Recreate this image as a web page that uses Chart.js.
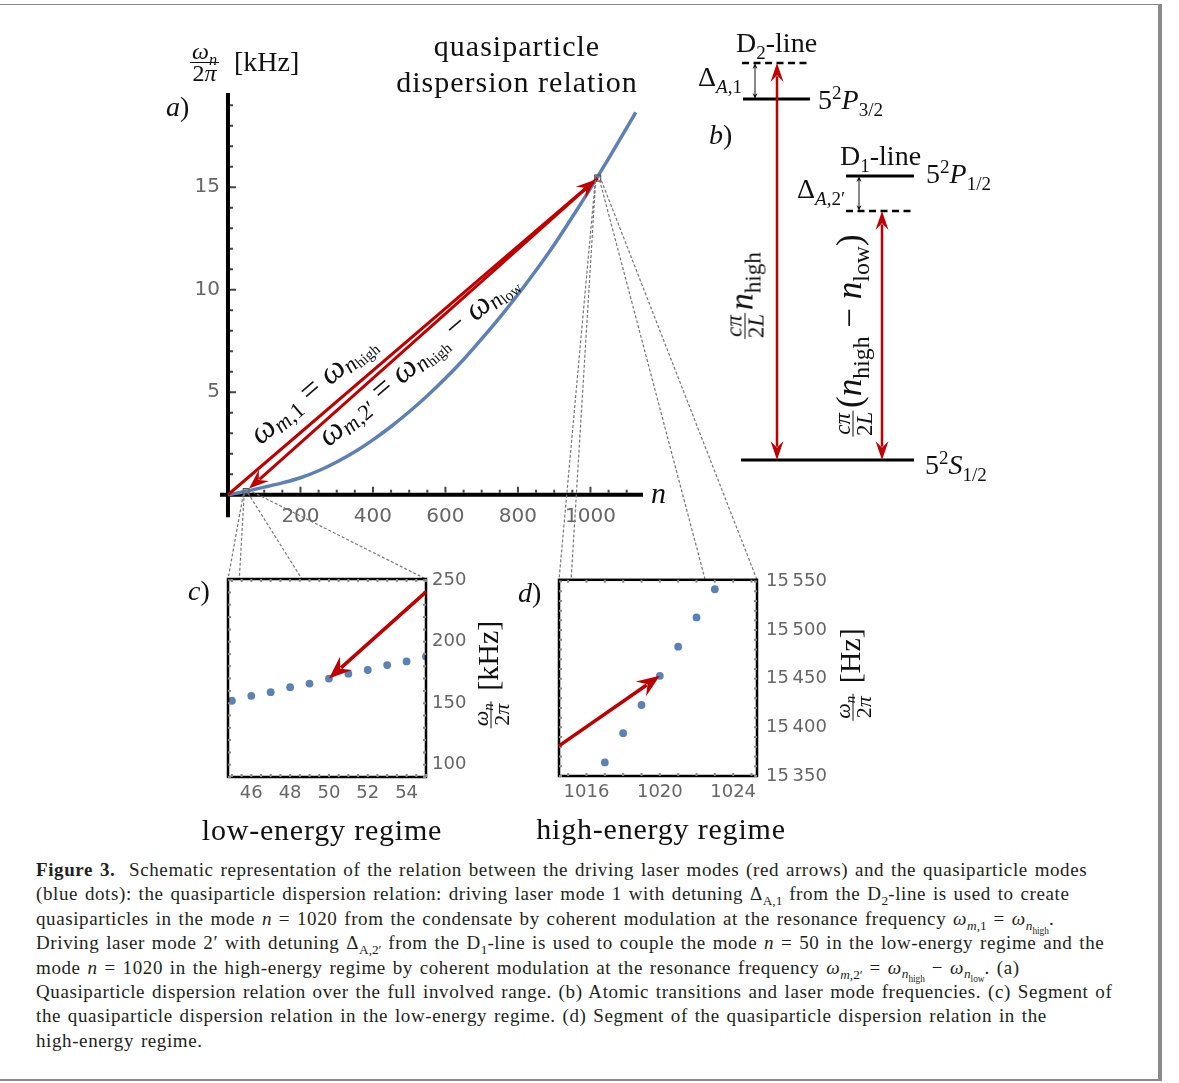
<!DOCTYPE html>
<html lang="en">
<head>
<meta charset="UTF-8">
<title>Quasiparticle dispersion relation</title>
<script src="https://cdn.jsdelivr.net/npm/chart.js"></script>
<style>
  html, body { margin: 0; padding: 0; background: #fff; }
  body { width: 1179px; height: 1083px; position: relative; overflow: hidden; }
  canvas { position: absolute; }
  #cA { left: 0; top: 0; z-index: 1; }
  #cB { left: 700px; top: 20px; z-index: 1; }
  #links { left: 0; top: 0; z-index: 2; }
  #cC { left: 180px; top: 560px; z-index: 3; }
  #cD { left: 510px; top: 560px; z-index: 3; }
  .lbl { position: absolute; z-index: 4; font-family: "Liberation Serif", serif; color: #111;
         white-space: nowrap; line-height: 1; font-size: 28px; }
  .lbl sub, .lbl sup { font-size: 0.68em; line-height: 0; }
  .ctr { transform: translateX(-50%); }
  .frac { display: inline-flex; flex-direction: column; align-items: center; vertical-align: middle;
          font-size: 20px; line-height: 19px; margin: 0 3px; }
  .frac > span:first-child { border-bottom: 1.4px solid #111; padding: 0 2px; }
  .rot { transform: translate(-50%, -50%) rotate(-90deg); }
  .diag { transform-origin: 0 0; transform: rotate(-40.5deg); font-size: 33px; }
  .diag sub { vertical-align: -0.2em; }
  .diag sub sub { vertical-align: -0.15em; }
  #caption { position: absolute; left: 36px; top: 858px; width: 1125px; font-family: "Liberation Serif", serif;
             font-size: 19px; line-height: 24.4px; color: #231f20; white-space: nowrap;
             letter-spacing: 0.6px; word-spacing: 1.5px; }
  #caption sub { font-size: 0.7em; line-height: 0; letter-spacing: 0; }
  .frame { position: absolute; background: #8a8a8a; }
</style>
</head>
<body>

<div class="frame" style="left:0; top:4px; width:1160px; height:1.3px;"></div>
<div class="frame" style="left:1158px; top:4px; width:3.5px; height:1077px;"></div>
<div class="frame" style="left:0; top:1079px; width:1160px; height:1.5px;"></div>

<canvas id="cA" width="700" height="560"></canvas>
<canvas id="cB" width="310" height="470"></canvas>
<canvas id="links" width="1179" height="860"></canvas>
<canvas id="cC" width="330" height="290"></canvas>
<canvas id="cD" width="380" height="290"></canvas>

<!-- panel a texts -->
<div class="lbl" style="left:190px; top:41px;"><span class="frac" style="margin:0; font-size:24px; line-height:21px;"><span><i>ω</i><sub><i>n</i></sub></span><span>2<i>π</i></span></span></div>
<div class="lbl" style="left:234px; top:48px;">[kHz]</div>
<div class="lbl" style="left:166px; top:93px;"><i>a</i>)</div>
<div class="lbl ctr" style="left:517px; top:31px; font-size:30px; letter-spacing:1px;">quasiparticle</div>
<div class="lbl ctr" style="left:517px; top:67px; font-size:30px; letter-spacing:1px;">dispersion relation</div>
<div class="lbl" style="left:651px; top:478px; font-size:30px;"><i>n</i></div>
<div class="lbl diag" style="left:243px; top:425px;"><i>ω</i><sub><i>m</i>,1</sub> = <i>ω</i><sub><i>n</i><sub>high</sub></sub></div>
<div class="lbl diag" style="left:311px; top:427px;"><i>ω</i><sub><i>m</i>,2′</sub> = <i>ω</i><sub><i>n</i><sub>high</sub></sub> − <i>ω</i><sub><i>n</i><sub>low</sub></sub></div>

<!-- panel b texts -->
<div class="lbl" style="left:736px; top:29px;">D<sub>2</sub>-line</div>
<div class="lbl" style="left:698px; top:63px;">Δ<sub><i>A</i>,1</sub></div>
<div class="lbl" style="left:818px; top:86px;">5<sup>2</sup><i>P</i><sub>3/2</sub></div>
<div class="lbl" style="left:709px; top:121px;"><i>b</i>)</div>
<div class="lbl" style="left:840px; top:142px;">D<sub>1</sub>-line</div>
<div class="lbl" style="left:926px; top:160px;">5<sup>2</sup><i>P</i><sub>1/2</sub></div>
<div class="lbl" style="left:797px; top:175px;">Δ<sub><i>A</i>,2′</sub></div>
<div class="lbl" style="left:925px; top:451px;">5<sup>2</sup><i>S</i><sub>1/2</sub></div>
<div class="lbl rot" style="left:745px; top:297px; font-size:34px;"><span class="frac" style="font-size:23px; line-height:21px;"><span><i>cπ</i></span><span>2<i>L</i></span></span><i>n</i><sub>high</sub></div>
<div class="lbl rot" style="left:853px; top:337px; font-size:35px;"><span class="frac" style="font-size:23px; line-height:21px;"><span><i>cπ</i></span><span>2<i>L</i></span></span>(<i>n</i><sub>high</sub> − <i>n</i><sub>low</sub>)</div>

<!-- panels c and d texts -->
<div class="lbl" style="left:188px; top:577px;"><i>c</i>)</div>
<div class="lbl" style="left:518px; top:579px;"><i>d</i>)</div>
<div class="lbl ctr" style="left:322px; top:815px; font-size:30px; letter-spacing:0.8px;">low-energy regime</div>
<div class="lbl ctr" style="left:661px; top:814px; font-size:30px; letter-spacing:0.8px;">high-energy regime</div>
<div class="lbl rot" style="left:491px; top:676px; font-size:30px;"><span class="frac" style="font-size:22px; line-height:20px;"><span><i>ω</i><sub><i>n</i></sub></span><span>2<i>π</i></span></span>&nbsp;[kHz]</div>
<div class="lbl rot" style="left:853px; top:676px; font-size:30px;"><span class="frac" style="font-size:22px; line-height:20px;"><span><i>ω</i><sub><i>n</i></sub></span><span>2<i>π</i></span></span>&nbsp;[Hz]</div>

<div id="caption"><b>Figure 3.</b>&nbsp; Schematic representation of the relation between the driving laser modes (red arrows) and the quasiparticle modes<br>(blue dots): the quasiparticle dispersion relation: driving laser mode 1 with detuning Δ<sub>A,1</sub> from the D<sub>2</sub>-line is used to create<br>quasiparticles in the mode <i>n</i> = 1020 from the condensate by coherent modulation at the resonance frequency <i>ω</i><sub><i>m</i>,1</sub> = <i>ω</i><sub><i>n</i><sub>high</sub></sub>.<br>Driving laser mode 2′ with detuning Δ<sub>A,2′</sub> from the D<sub>1</sub>-line is used to couple the mode <i>n</i> = 50 in the low-energy regime and the<br>mode <i>n</i> = 1020 in the high-energy regime by coherent modulation at the resonance frequency <i>ω</i><sub><i>m</i>,2′</sub> = <i>ω</i><sub><i>n</i><sub>high</sub></sub> − <i>ω</i><sub><i>n</i><sub>low</sub></sub>. (a)<br>Quasiparticle dispersion relation over the full involved range. (b) Atomic transitions and laser mode frequencies. (c) Segment of<br>the quasiparticle dispersion relation in the low-energy regime. (d) Segment of the quasiparticle dispersion relation in the<br>high-energy regime.</div>

<script>
// ---- data ----
// (a) full dispersion relation, frequency in kHz
const curveN   = [0, 50, 100, 150, 200, 250, 300, 350, 400, 450, 500, 550, 600, 650, 700, 750, 800, 850, 900, 950, 1000, 1050, 1100, 1125];
const curveKHz = [0, 0.17, 0.37, 0.58, 0.83, 1.17, 1.6, 2.1, 2.68, 3.33, 4.05, 4.83, 5.68, 6.6, 7.6, 8.65, 9.77, 10.95, 12.2, 13.55, 14.95, 16.4, 17.9, 18.65];
const aTicksX = [200, 400, 600, 800, 1000];
const aTicksY = [5, 10, 15];
// driving arrows in (a): [n0, f0, n1, f1]
const arrowM1 = [0, 0, 1015, 15.38];
const arrowM2 = [1020, 15.45, 58, 0.3];

// (c) low-energy regime
const lowN   = [45, 46, 47, 48, 49, 50, 51, 52, 53, 54, 55];
const lowVal = [152, 156, 159, 163, 166, 170, 174, 177, 181, 184, 188];
const cTicksX = [46, 48, 50, 52, 54];
const cTicksY = [100, 150, 200, 250];
const cRangeX = [44.8, 55];
const cRangeY = [90, 251];
const arrowC = [55, 240.5, 50, 170];

// (d) high-energy regime, Hz
const highN  = [1017, 1018, 1019, 1020, 1021, 1022, 1023];
const highHz = [15364, 15394, 15423, 15453, 15483, 15513, 15542];
const dTicksX = [1016, 1020, 1024];
const dTicksY = [15350, 15400, 15450, 15500, 15550];
const dTickLabelsY = ['15\u2009350', '15\u2009400', '15\u2009450', '15\u2009500', '15\u2009550'];
const dRangeX = [1014.5, 1025.3];
const dRangeY = [15350, 15551.7];
const arrowD = [1014.5, 15381, 1020, 15453];

// (b) level scheme, energy in arbitrary units
const levelEnergy = [0, 284, 249, 361, 397];      // 5S1/2, 5P1/2, D1 laser, 5P3/2, D2 laser
const levelFrom   = [41, 146, 146, 43, 42];
const levelTo     = [214, 214, 214, 110, 111];
const levelDashed = [false, false, true, false, true];
const laserX = [77, 182];
const laserFrom = [0, 0];
const laserTo = [397, 249];
const detuneX = [55, 159];
const detuneFrom = [361, 284];
const detuneTo = [397, 249];

const BLUE = '#5e81b5';
const RED = '#c00000';
const GRAY = '#666';

Chart.defaults.font.family = '"DejaVu Sans", sans-serif';

function arrowHead(ctx, x0, y0, x1, y1, len, half) {
  const a = Math.atan2(y1 - y0, x1 - x0), c = Math.cos(a), s = Math.sin(a);
  const bx = x1 - len * c, by = y1 - len * s;
  ctx.beginPath();
  ctx.moveTo(x1, y1);
  ctx.lineTo(bx - half * s, by + half * c);
  ctx.lineTo(x1 - len * 0.65 * c, y1 - len * 0.65 * s);
  ctx.lineTo(bx + half * s, by - half * c);
  ctx.closePath();
  ctx.fill();
}

function drawArrow(ctx, x0, y0, x1, y1, o) {
  const a = Math.atan2(y1 - y0, x1 - x0), c = Math.cos(a), s = Math.sin(a);
  const back = o.len * 0.7;
  ctx.save();
  ctx.strokeStyle = ctx.fillStyle = o.color;
  ctx.lineWidth = o.width;
  ctx.beginPath();
  ctx.moveTo(o.both ? x0 + back * c : x0, o.both ? y0 + back * s : y0);
  ctx.lineTo(x1 - back * c, y1 - back * s);
  ctx.stroke();
  arrowHead(ctx, x0, y0, x1, y1, o.len, o.half);
  if (o.both) arrowHead(ctx, x1, y1, x0, y0, o.len, o.half);
  ctx.restore();
}

function fixedTicks(list) {
  return s => { s.ticks = list.map(v => ({ value: v })); };
}

// ---- (a) ----
const panelA = {
  id: 'panelA',
  beforeDatasetsDraw(chart) {
    const { ctx, scales: { x, y } } = chart;
    const x0 = x.getPixelForValue(0), y0 = y.getPixelForValue(0);
    ctx.save();
    ctx.strokeStyle = '#000';
    ctx.lineWidth = 4;
    ctx.beginPath();
    ctx.moveTo(x.getPixelForValue(x.min), y0);
    ctx.lineTo(x.getPixelForValue(x.max), y0);
    ctx.moveTo(x0, y.getPixelForValue(-1.1));
    ctx.lineTo(x0, y.getPixelForValue(y.max));
    ctx.stroke();
    ctx.strokeStyle = '#444';
    ctx.lineWidth = 2;
    ctx.beginPath();
    for (let v = 50; v <= 1100; v += 50) {
      const px = x.getPixelForValue(v);
      ctx.moveTo(px, y0 - 2);
      ctx.lineTo(px, y0 - (v % 200 === 0 ? 8 : 5));
    }
    for (let v = 1; v <= 19; v++) {
      const py = y.getPixelForValue(v);
      ctx.moveTo(x0 + 2, py);
      ctx.lineTo(x0 + (v % 5 === 0 ? 8 : 5), py);
    }
    ctx.stroke();
    ctx.restore();
  },
  afterDatasetsDraw(chart) {
    const { ctx, scales: { x, y } } = chart;
    ctx.save();
    ctx.strokeStyle = '#555';
    ctx.lineWidth = 1.2;
    [[cRangeX, cRangeY], [dRangeX, dRangeY]].forEach(([rx, ry]) => {
      const l = x.getPixelForValue(rx[0]), r = x.getPixelForValue(rx[1]);
      const t = y.getPixelForValue(ry[1] / 1000), b = y.getPixelForValue(ry[0] / 1000);
      ctx.strokeRect(l - 1, t - 1, r - l + 2, b - t + 2);
    });
    ctx.restore();
    [arrowM1, arrowM2].forEach(p => {
      drawArrow(ctx, x.getPixelForValue(p[0]), y.getPixelForValue(p[1]),
        x.getPixelForValue(p[2]), y.getPixelForValue(p[3]),
        { color: RED, width: 3, len: 20, half: 7.5 });
    });
  }
};

const chartA = new Chart(document.getElementById('cA'), {
  type: 'line',
  data: {
    datasets: [{
      data: curveN.map((n, i) => ({ x: n, y: curveKHz[i] })),
      borderColor: BLUE, borderWidth: 3.5, pointRadius: 0,
      cubicInterpolationMode: 'monotone', fill: false
    }]
  },
  options: {
    responsive: false, animation: false, events: [],
    layout: { padding: { left: 180, right: 57, top: 93, bottom: 25 } },
    plugins: { legend: { display: false }, tooltip: { enabled: false } },
    scales: {
      x: {
        type: 'linear', min: -22, max: 1145,
        grid: { display: false, drawTicks: false }, border: { display: false },
        afterBuildTicks: fixedTicks(aTicksX),
        afterFit: s => { s.height = 30; },
        ticks: { padding: 0, color: GRAY, font: { size: 20 }, autoSkip: false, maxRotation: 0, callback: v => String(v) }
      },
      y: {
        type: 'linear', min: -0.5, max: 19.6,
        grid: { display: false, drawTicks: false }, border: { display: false },
        afterBuildTicks: fixedTicks(aTicksY),
        afterFit: s => { s.width = 40; },
        ticks: { padding: 0, color: GRAY, font: { size: 20 }, autoSkip: false, callback: v => String(v) }
      }
    }
  },
  plugins: [panelA]
});

// ---- (b) ----
const panelB = {
  id: 'panelB',
  afterDatasetsDraw(chart) {
    const { ctx, scales: { x, y } } = chart;
    laserX.forEach((lx, i) => {
      const px = x.getPixelForValue(lx);
      drawArrow(ctx, px, y.getPixelForValue(laserFrom[i]), px, y.getPixelForValue(laserTo[i]),
        { color: RED, width: 2.5, len: 19, half: 6.5, both: true });
    });
    detuneX.forEach((dx, i) => {
      const px = x.getPixelForValue(dx);
      drawArrow(ctx, px, y.getPixelForValue(detuneFrom[i]), px, y.getPixelForValue(detuneTo[i]),
        { color: '#111', width: 1, len: 6, half: 2.5, both: true });
    });
  }
};

new Chart(document.getElementById('cB'), {
  type: 'line',
  data: {
    datasets: levelEnergy.map((e, i) => ({
      data: [{ x: levelFrom[i], y: e }, { x: levelTo[i], y: e }],
      borderColor: '#000', borderWidth: levelDashed[i] ? 2.5 : 3,
      borderDash: levelDashed[i] ? [7, 4.5] : [], pointRadius: 0, fill: false
    }))
  },
  options: {
    responsive: false, animation: false, events: [],
    plugins: { legend: { display: false }, tooltip: { enabled: false } },
    scales: {
      x: { type: 'linear', min: 0, max: 310, display: false },
      y: { type: 'linear', min: -30, max: 440, display: false }
    }
  },
  plugins: [panelB]
});

// ---- (c) and (d) ----
function zoomPanel(stepX, stepY, arrow) {
  return {
    id: 'zoomPanel',
    beforeDraw(chart) {
      const { ctx, chartArea: a } = chart;
      ctx.save();
      ctx.fillStyle = '#fff';
      ctx.fillRect(a.left, a.top, a.width, a.height);
      ctx.restore();
    },
    afterDatasetsDraw(chart) {
      const { ctx, chartArea: a, scales: { x, y } } = chart;
      ctx.save();
      ctx.strokeStyle = '#000';
      ctx.lineWidth = 2.5;
      ctx.strokeRect(a.left, a.top, a.width, a.height);
      ctx.strokeStyle = '#8a8a8a';
      ctx.lineWidth = 2;
      ctx.beginPath();
      for (let v = Math.ceil(x.min / stepX) * stepX; v <= x.max; v += stepX) {
        const px = x.getPixelForValue(v);
        ctx.moveTo(px, a.top); ctx.lineTo(px, a.top + 3);
        ctx.moveTo(px, a.bottom); ctx.lineTo(px, a.bottom - 3);
      }
      for (let v = Math.ceil(y.min / stepY) * stepY; v <= y.max; v += stepY) {
        const py = y.getPixelForValue(v);
        ctx.moveTo(a.left, py); ctx.lineTo(a.left + 3, py);
        ctx.moveTo(a.right, py); ctx.lineTo(a.right - 3, py);
      }
      ctx.stroke();
      ctx.restore();
      drawArrow(ctx, x.getPixelForValue(arrow[0]), y.getPixelForValue(arrow[1]),
        x.getPixelForValue(arrow[2]), y.getPixelForValue(arrow[3]),
        { color: RED, width: 3.5, len: 23, half: 9 });
    }
  };
}

function zoomChart(id, xs, ys, rx, ry, tx, ty, tyLabels, pad, yWidth, stepX, stepY, arrow, yPad) {
  return new Chart(document.getElementById(id), {
    type: 'scatter',
    data: {
      datasets: [{
        data: xs.map((n, i) => ({ x: n, y: ys[i] })),
        backgroundColor: BLUE, borderWidth: 0, pointRadius: 3.9
      }]
    },
    options: {
      responsive: false, animation: false, events: [],
      layout: { padding: pad },
      plugins: { legend: { display: false }, tooltip: { enabled: false } },
      scales: {
        x: {
          type: 'linear', min: rx[0], max: rx[1], position: 'bottom',
          grid: { display: false, drawTicks: false }, border: { display: false },
          afterBuildTicks: fixedTicks(tx),
          afterFit: s => { s.height = 30; },
          ticks: { padding: 6, color: GRAY, font: { size: 18 }, autoSkip: false, maxRotation: 0, callback: v => String(v) }
        },
        y: {
          type: 'linear', min: ry[0], max: ry[1], position: 'right',
          grid: { display: false, drawTicks: false }, border: { display: false },
          afterBuildTicks: fixedTicks(ty),
          afterFit: s => { s.width = yWidth; },
          ticks: { padding: yPad, color: GRAY, font: { size: 18 }, autoSkip: false,
                   callback: (v, i) => tyLabels ? tyLabels[i] : String(v) }
        }
      }
    },
    plugins: [zoomPanel(stepX, stepY, arrow)]
  });
}

const chartC = zoomChart('cC', lowN, lowVal, cRangeX, cRangeY, cTicksX, cTicksY, null,
  { left: 48, top: 19, right: 24, bottom: 43 }, 60, 0.5, 10, arrowC, 6);
const chartD = zoomChart('cD', highN, highHz, dRangeX, dRangeY, dTicksX, dTicksY, dTickLabelsY,
  { left: 49, top: 19, right: 53, bottom: 44 }, 80, 1, 10, arrowD, 9);

// ---- dashed guides from the small boxes in (a) to the zoomed panels ----
function drawLinks() {
  const ctx = document.getElementById('links').getContext('2d');
  const sx = chartA.scales.x, sy = chartA.scales.y;
  ctx.strokeStyle = '#777';
  ctx.lineWidth = 1.2;
  ctx.setLineDash([3, 2]);
  [chartC, chartD].forEach(z => {
    const ox = z.canvas.offsetLeft, oy = z.canvas.offsetTop, a = z.chartArea;
    const l = sx.getPixelForValue(z.scales.x.min), r = sx.getPixelForValue(z.scales.x.max);
    const t = sy.getPixelForValue(z.scales.y.max / 1000), b = sy.getPixelForValue(z.scales.y.min / 1000);
    const pairs = [[l, t, a.left, a.top], [r, t, a.right, a.top], [l, b, a.left, a.bottom], [r, b, a.right, a.bottom]];
    ctx.beginPath();
    pairs.forEach(p => { ctx.moveTo(p[0], p[1]); ctx.lineTo(p[2] + ox, p[3] + oy); });
    ctx.stroke();
  });
}
drawLinks();
</script>
</body>
</html>
